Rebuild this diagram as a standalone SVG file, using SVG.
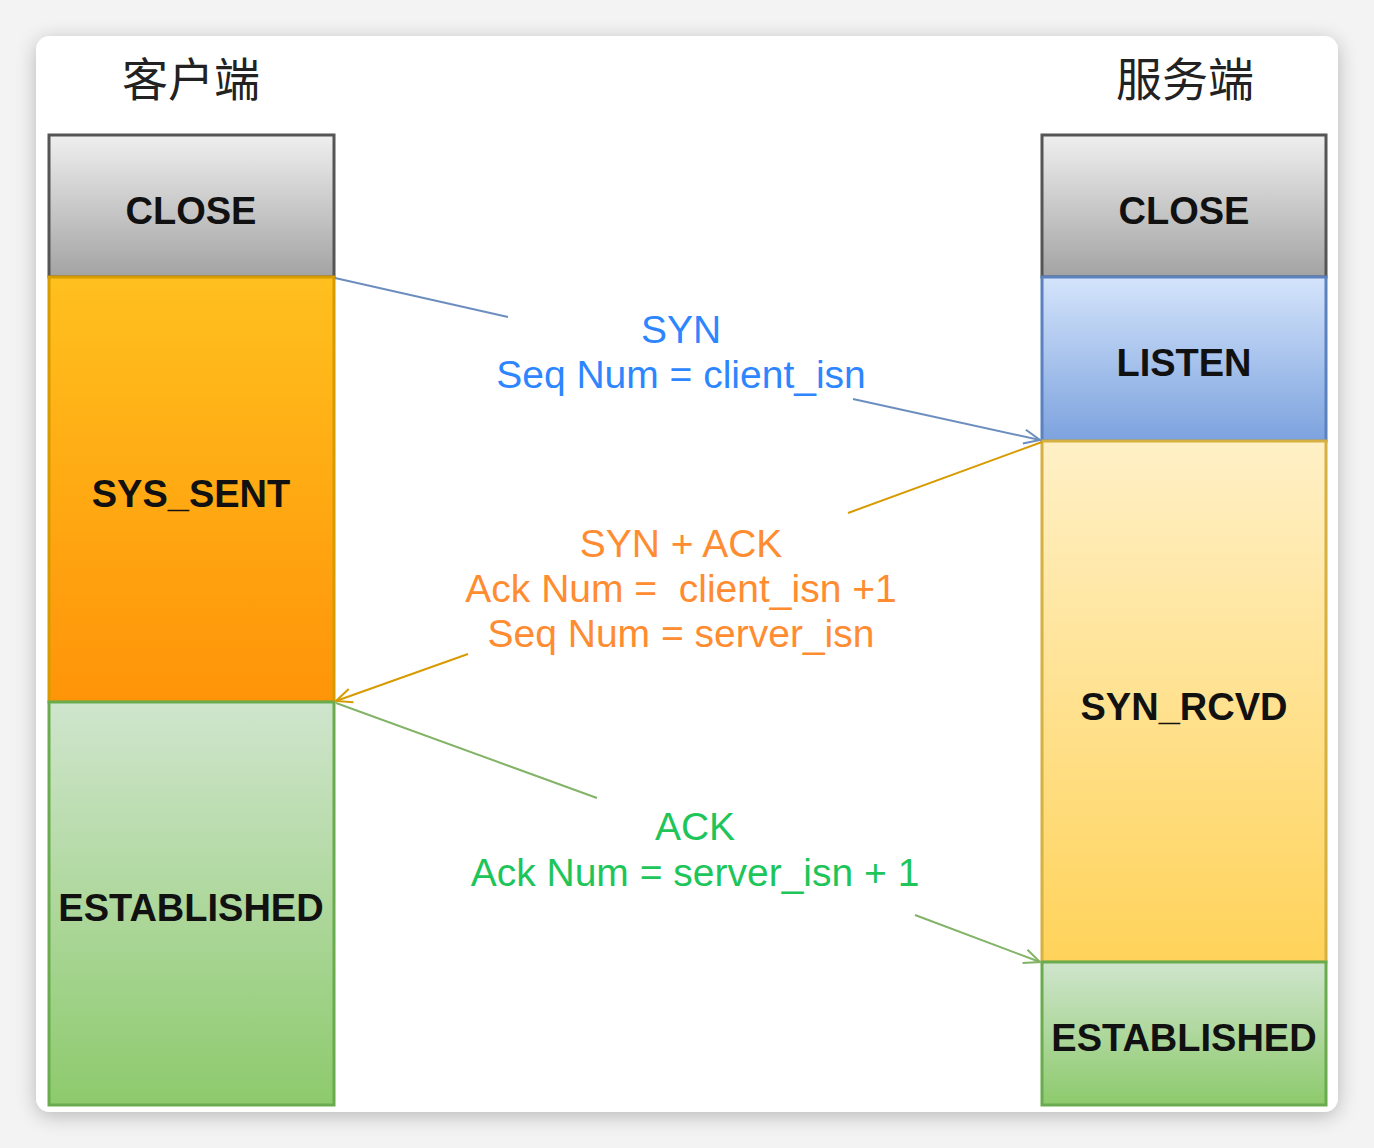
<svg xmlns="http://www.w3.org/2000/svg" width="1374" height="1148" viewBox="0 0 1374 1148">
<defs>
<filter id="sh" x="-5%" y="-5%" width="110%" height="110%">
<feGaussianBlur in="SourceAlpha" stdDeviation="10"/>
<feOffset dx="0" dy="4"/>
<feComponentTransfer><feFuncA type="linear" slope="0.25"/></feComponentTransfer>
<feMerge><feMergeNode/><feMergeNode in="SourceGraphic"/></feMerge>
</filter>
<linearGradient id="gGray" x1="0" y1="0" x2="0" y2="1"><stop offset="0" stop-color="#efefef"/><stop offset="1" stop-color="#a3a3a3"/></linearGradient>
<linearGradient id="gOrange" x1="0" y1="0" x2="0" y2="1"><stop offset="0" stop-color="#ffc01e"/><stop offset="1" stop-color="#ff9408"/></linearGradient>
<linearGradient id="gBlue" x1="0" y1="0" x2="0" y2="1"><stop offset="0" stop-color="#d4e4fb"/><stop offset="1" stop-color="#7ca2de"/></linearGradient>
<linearGradient id="gYellow" x1="0" y1="0" x2="0" y2="1"><stop offset="0" stop-color="#fff0c6"/><stop offset="1" stop-color="#ffd35a"/></linearGradient>
<linearGradient id="gGreen" x1="0" y1="0" x2="0" y2="1"><stop offset="0" stop-color="#cfe5cd"/><stop offset="1" stop-color="#8dca6c"/></linearGradient>
<marker id="aBlue" viewBox="0 0 20 20" refX="18" refY="10" markerWidth="20" markerHeight="20" markerUnits="userSpaceOnUse" orient="auto"><path d="M2 3 L18 10 L2 17" fill="none" stroke="#6c8ebf" stroke-width="2"/></marker>
<marker id="aOrange" viewBox="0 0 20 20" refX="18" refY="10" markerWidth="20" markerHeight="20" markerUnits="userSpaceOnUse" orient="auto"><path d="M2 3 L18 10 L2 17" fill="none" stroke="#d79b00" stroke-width="2"/></marker>
<marker id="aGreen" viewBox="0 0 20 20" refX="18" refY="10" markerWidth="20" markerHeight="20" markerUnits="userSpaceOnUse" orient="auto"><path d="M2 3 L18 10 L2 17" fill="none" stroke="#82b366" stroke-width="2"/></marker>
</defs>
<style>
.st{font-family:"Liberation Sans","Noto Sans",sans-serif;font-weight:bold;font-size:38px;fill:#111;text-anchor:middle}
.msg{font-family:"Liberation Sans","Noto Sans",sans-serif;font-size:39px;text-anchor:middle}
.title{font-family:"Noto Sans CJK SC","Noto Sans",sans-serif;font-size:46px;fill:#222;text-anchor:middle}
.box{stroke-width:3}
</style>
<rect x="0" y="0" width="1374" height="1148" fill="#f3f3f3"/>
<rect x="36" y="36" width="1302" height="1076" rx="14" fill="#ffffff" filter="url(#sh)"/>

<text class="title" x="191" y="96">客户端</text>
<text class="title" x="1185" y="96">服务端</text>

<g id="c-close"><rect class="box" x="49" y="135" width="285" height="142" fill="url(#gGray)" stroke="#555555"/><text class="st" x="191" y="224">CLOSE</text></g>
<g id="c-syssent"><rect class="box" x="49" y="277" width="285" height="425" fill="url(#gOrange)" stroke="#d79b00"/><text class="st" x="191" y="507">SYS_SENT</text></g>
<g id="c-est"><rect class="box" x="49" y="702" width="285" height="403" fill="url(#gGreen)" stroke="#6aab4f"/><text class="st" x="191" y="921">ESTABLISHED</text></g>

<g id="s-close"><rect class="box" x="1042" y="135" width="284" height="142" fill="url(#gGray)" stroke="#555555"/><text class="st" x="1184" y="224">CLOSE</text></g>
<g id="s-listen"><rect class="box" x="1042" y="277" width="284" height="164" fill="url(#gBlue)" stroke="#5b82bf"/><text class="st" x="1184" y="376">LISTEN</text></g>
<g id="s-synrcvd"><rect class="box" x="1042" y="441" width="284" height="521" fill="url(#gYellow)" stroke="#d6b040"/><text class="st" x="1184" y="720">SYN_RCVD</text></g>
<g id="s-est"><rect class="box" x="1042" y="962" width="284" height="143" fill="url(#gGreen)" stroke="#6aab4f"/><text class="st" x="1184" y="1051">ESTABLISHED</text></g>

<g id="connectors" fill="none" stroke-width="2">
<line x1="335" y1="278" x2="508" y2="317" stroke="#6c8ebf"/>
<line x1="853" y1="399" x2="1040" y2="440" stroke="#6c8ebf" marker-end="url(#aBlue)"/>
<line x1="1042" y1="442" x2="848" y2="513" stroke="#d79b00"/>
<line x1="468" y1="654" x2="336" y2="701" stroke="#d79b00" marker-end="url(#aOrange)"/>
<line x1="336" y1="703" x2="597" y2="798" stroke="#82b366"/>
<line x1="915" y1="915" x2="1040" y2="962" stroke="#82b366" marker-end="url(#aGreen)"/>
</g>

<g id="labels">
<text class="msg" x="681" y="343" fill="#2e86ff">SYN</text>
<text class="msg" x="681" y="388" fill="#2e86ff">Seq Num = client_isn</text>
<text class="msg" x="681" y="557" fill="#ff8c30">SYN + ACK</text>
<text class="msg" x="681" y="602" fill="#ff8c30" xml:space="preserve">Ack Num =  client_isn +1</text>
<text class="msg" x="681" y="647" fill="#ff8c30">Seq Num = server_isn</text>
<text class="msg" x="695" y="840" fill="#1ec55a">ACK</text>
<text class="msg" x="695" y="886" fill="#1ec55a">Ack Num = server_isn + 1</text>
</g>
</svg>
